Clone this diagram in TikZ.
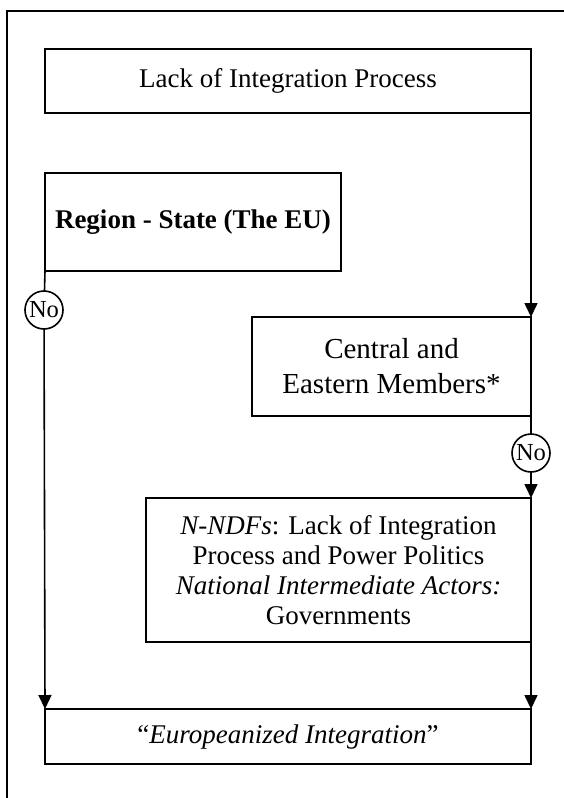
\documentclass[tikz,border=0pt]{standalone}
\usepackage{fontspec}
\setmainfont{Liberation Serif}
\usepackage{tikz}
\usetikzlibrary{arrows.meta}
\tikzset{box/.style={draw, line width=1.6pt, rectangle, inner sep=0, outer sep=0, align=center, font=\fontsize{27}{30}\selectfont},
  nocircle/.style={draw, line width=1.6pt, circle, inner sep=0, outer sep=0, minimum size=38pt, font=\fontsize{24.5}{26}\selectfont},
  flow/.style={line width=1.6pt, -{Triangle[width=13pt,length=14pt]}}}

\begin{document}
\begin{tikzpicture}[x=1pt, y=-1pt]
  \useasboundingbox (0, 0) rectangle (564, 798);
  \draw[line width=1.8pt] (7, 800) -- (7, 11) -- (566, 11);

  \node[box, minimum width=486pt, minimum height=64pt] at (288, 81) (lack) {Lack of Integration Process};
  \node[box, minimum width=296pt, minimum height=98pt] at (193, 222) (region) {\textbf{Region - State (The EU)}};
  \node[box, minimum width=279pt, minimum height=99pt, font=\fontsize{29}{35}\selectfont] at (391.5, 366.5) (central) {Central and\\Eastern Members*};
  \node[box, minimum width=385pt, minimum height=144pt] at (338.5, 570) (nndf) {\textit{N-NDFs}: Lack of Integration\\Process and Power Politics\\\textit{National Intermediate Actors:}\\Governments};
  \node[box, minimum width=486pt, minimum height=55pt] at (288, 736.5) (europe) {“\textit{Europeanized Integration}”};

  \node[nocircle] at (44, 310) (noleft) {No};
  \node[nocircle] at (531, 453) (noright) {No};

  \draw[flow] (lack.south east) -- (central.north east);
  \draw[flow] (region.south west) -- (noleft) -- (europe.north west);
  \draw[flow] (central.south east) -- (noright) -- (nndf.north east);
  \draw[flow] (nndf.south east) -- (europe.north east);
\end{tikzpicture}
\end{document}
